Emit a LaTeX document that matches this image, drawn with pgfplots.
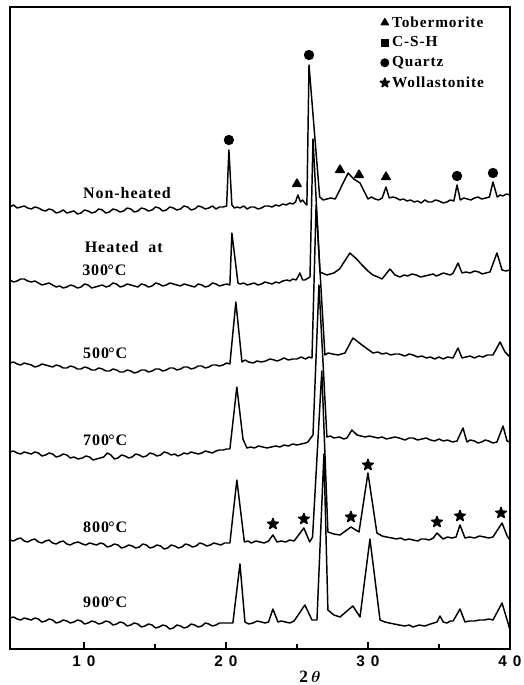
\documentclass[border=0pt]{standalone}
\usepackage{pgfplots}
\pgfplotsset{compat=1.18}
\usepackage{fontspec}
\usepackage{bm}
\setmainfont{Liberation Serif}
\setsansfont{Liberation Sans}
\newfontfamily\lblfont[LetterSpace=6]{Liberation Serif}
\pgfdeclareplotmark{fstar}{%
 \pgfpathmoveto{\pgfpointpolar{90}{\pgfplotmarksize}}%
 \pgfpathlineto{\pgfpointpolar{126}{0.4\pgfplotmarksize}}%
 \pgfpathlineto{\pgfpointpolar{162}{\pgfplotmarksize}}%
 \pgfpathlineto{\pgfpointpolar{198}{0.4\pgfplotmarksize}}%
 \pgfpathlineto{\pgfpointpolar{234}{\pgfplotmarksize}}%
 \pgfpathlineto{\pgfpointpolar{270}{0.4\pgfplotmarksize}}%
 \pgfpathlineto{\pgfpointpolar{306}{\pgfplotmarksize}}%
 \pgfpathlineto{\pgfpointpolar{342}{0.4\pgfplotmarksize}}%
 \pgfpathlineto{\pgfpointpolar{18}{\pgfplotmarksize}}%
 \pgfpathlineto{\pgfpointpolar{54}{0.4\pgfplotmarksize}}%
 \pgfpathclose
 \pgfusepathqfillstroke}
\begin{document}
\begin{tikzpicture}
\begin{axis}[name=ax, scale only axis, width=375pt, height=481.5pt,
  xmin=4.8, xmax=40, ymin=0, ymax=642,
  axis line style={line width=1.3pt},
  ytick=\empty,
  xtick={10,20,30,40},
  xticklabels={1\kern4.5pt0,2\kern4.5pt0,3\kern4.5pt0,4\kern4.5pt0},
  minor xtick={15,25,35},
  xtick pos=left,
  major tick length=5pt, minor tick length=4pt,
  every tick/.style={line width=1pt, black},
  xticklabel style={font=\sffamily\bfseries\fontsize{11.5}{13}\selectfont, yshift=-1.5pt},
  xlabel={\textbf{2}\,$\bm{\theta}$},
  xlabel style={at={(axis description cs:0.6,0)}, anchor=center, yshift=-21pt, font=\bfseries\fontsize{13}{15}\selectfont},
  legend style={at={(axis description cs:0.732,0.994)}, anchor=north west, draw=none, fill=none,
     font=\lblfont\bfseries\fontsize{11.5}{13}\selectfont, row sep=1.8pt},
  legend cell align=left,
  every axis plot/.append style={line width=1.1pt, line join=round},
]
\addlegendimage{only marks, mark=triangle*, mark size=3pt, black}
\addlegendentry{Tobermorite}
\addlegendimage{only marks, mark=square*, mark size=2.6pt, black}
\addlegendentry{C-S-H}
\addlegendimage{only marks, mark=*, mark size=2.8pt, black}
\addlegendentry{Quartz}
\addlegendimage{only marks, mark=fstar, mark size=3.6pt, black}
\addlegendentry{Wollastonite}

% Non-heated
\addplot[black, forget plot] coordinates {(4.8,442)(5.05,444)(5.3,441)(5.55,442)(5.8,443)(6.05,441)(6.3,440)(6.55,442)(6.8,441)(7.05,439)(7.3,438)(7.55,440)(7.8,439)(8.05,436)(8.3,437)(8.55,439)(8.8,436)(9.05,437)(9.3,438)(9.55,435)(9.8,436)(10.05,439)(10.3,438)(10.55,436)(10.8,437)(11.05,440)(11.3,439)(11.55,436)(11.8,437)(12.05,440)(12.3,439)(12.55,437)(12.8,438)(13.05,441)(13.3,440)(13.55,437)(13.8,438)(14.05,441)(14.3,440)(14.55,438)(14.8,439)(15.05,442)(15.3,441)(15.55,438)(15.8,439)(16.05,442)(16.3,441)(16.55,439)(16.8,440)(17.05,443)(17.3,442)(17.55,439)(17.8,440)(18.05,443)(18.3,442)(18.55,440)(18.8,441)(19.05,443)(19.3,440)(19.55,442)(19.8,442)(20.05,443)(20.21,499)(20.42,444)(20.6,441)(20.8,442)(21.0,441)(21.25,443)(21.5,440)(21.75,442)(22.0,442)(22.25,440)(22.5,441)(22.75,443)(23.0,443)(23.25,442)(23.5,444)(23.75,443)(24.0,445)(24.25,444)(24.5,446)(24.7,445)(24.9,447)(25.07,454)(25.25,447)(25.4,449)(25.56,446)(25.7,444)(25.85,584)(26.6,452)(26.85,449)(27.1,450)(27.4,451)(27.7,450)(28.6,476)(29.0,470)(29.44,466)(30.0,450)(30.25,452)(30.5,450)(30.75,449)(31.0,451)(31.27,462)(31.5,451)(31.75,452)(32.0,451)(32.25,449)(32.5,450)(32.75,448)(33.0,449)(33.25,447)(33.5,448)(33.75,446)(34.0,449)(34.25,447)(34.5,447)(34.75,449)(35.0,448)(35.3,446)(35.56,447)(35.8,449)(36.05,448)(36.27,464)(36.5,449)(36.75,451)(37.0,450)(37.25,449)(37.5,451)(37.75,452)(38.0,450)(38.3,451)(38.55,452)(38.8,467)(39.1,452)(39.3,454)(39.5,453)(39.75,455)(40,454)};
% 300 C
\addplot[black, forget plot] coordinates {(4.8,369)(5.05,367)(5.3,368)(5.55,370)(5.8,370)(6.05,368)(6.3,367)(6.55,368)(6.8,366)(7.05,364)(7.3,365)(7.55,366)(7.8,364)(8.05,362)(8.3,363)(8.55,361)(8.8,362)(9.05,364)(9.3,363)(9.55,361)(9.8,362)(10.05,365)(10.3,364)(10.55,361)(10.8,362)(11.05,363)(11.3,364)(11.55,362)(11.8,363)(12.05,366)(12.3,365)(12.55,362)(12.8,363)(13.05,365)(13.3,364)(13.55,363)(13.8,362)(14.05,365)(14.3,364)(14.55,362)(14.8,363)(15.05,366)(15.3,365)(15.55,363)(15.8,364)(16.05,366)(16.3,365)(16.55,364)(16.8,363)(17.05,365)(17.3,364)(17.55,363)(17.8,362)(18.05,365)(18.3,364)(18.55,362)(18.8,363)(19.05,366)(19.3,365)(19.55,363)(19.8,364)(20.05,365)(20.28,364)(20.42,416)(20.85,366)(21.0,365)(21.25,366)(21.5,364)(21.75,365)(22.0,366)(22.25,364)(22.5,365)(22.75,367)(23.0,366)(23.25,365)(23.5,367)(23.75,366)(24.0,368)(24.3,369)(24.5,368)(24.7,370)(24.95,369)(25.21,376)(25.4,369)(25.56,369)(25.92,372)(26.13,510)(26.62,377)(27.11,374)(27.35,375)(27.6,376)(28.0,380)(28.73,396)(29.2,390)(29.58,384)(30.0,378)(30.35,374)(30.7,372)(30.99,370)(31.55,380)(31.9,374)(32.25,372)(32.55,374)(32.8,373)(33.1,375)(33.4,374)(33.7,372)(34.0,373)(34.3,374)(34.6,375)(34.8,373)(35.0,374)(35.3,376)(35.56,375)(35.8,374)(36.0,376)(36.34,386)(36.62,376)(36.9,377)(37.2,376)(37.5,378)(37.8,377)(38.05,375)(38.3,376)(38.59,377)(39.08,396)(39.44,379)(39.7,378)(40,379)};
% 500 C
\addplot[black, forget plot] coordinates {(4.8,286)(5.05,287)(5.3,285)(5.55,284)(5.8,286)(6.05,285)(6.3,284)(6.55,282)(6.8,283)(7.05,285)(7.3,284)(7.55,283)(7.8,282)(8.05,284)(8.3,283)(8.55,281)(8.8,281)(9.05,283)(9.3,282)(9.55,280)(9.8,280)(10.05,282)(10.3,281)(10.55,279)(10.8,279)(11.05,281)(11.3,280)(11.55,278)(11.8,278)(12.05,280)(12.3,279)(12.55,277)(12.8,277)(13.05,279)(13.3,278)(13.55,276)(13.8,277)(14.05,279)(14.3,279)(14.55,277)(14.8,278)(15.05,280)(15.3,280)(15.55,278)(15.8,279)(16.05,281)(16.3,281)(16.55,279)(16.8,280)(17.05,282)(17.3,282)(17.55,280)(17.8,281)(18.05,283)(18.3,283)(18.55,281)(18.8,282)(19.05,284)(19.3,284)(19.55,283)(19.8,284)(20.05,286)(20.28,285)(20.7,347)(21.13,287)(21.35,289)(21.6,287)(21.9,286)(22.2,288)(22.5,287)(22.8,288)(23.1,290)(23.4,289)(23.6,288)(23.8,289)(24.1,291)(24.4,289)(24.7,290)(25.0,290)(25.3,292)(25.6,290)(25.85,292)(26.06,291)(26.35,444)(26.97,294)(27.2,296)(27.5,295)(27.9,294)(28.38,296)(28.94,311)(29.58,304)(30.35,296)(30.7,297)(31.0,295)(31.3,296)(31.6,294)(31.9,295)(32.2,295)(32.6,293)(32.9,295)(33.17,294)(33.5,292)(33.8,293)(34.1,291)(34.4,292)(34.7,290)(35.0,292)(35.3,290)(35.6,292)(35.99,291)(36.34,301)(36.62,291)(36.9,292)(37.2,293)(37.5,291)(37.8,293)(38.1,292)(38.4,294)(38.8,294)(39.3,307)(39.65,297)(40,292)};
% 700 C
\addplot[black, forget plot] coordinates {(4.8,197)(5.05,198)(5.3,196)(5.55,195)(5.8,197)(6.05,196)(6.3,195)(6.55,197)(6.8,196)(7.05,193)(7.3,194)(7.55,196)(7.8,195)(8.05,192)(8.3,193)(8.55,195)(8.8,194)(9.05,191)(9.3,192)(9.6,190)(9.9,191)(10.15,193)(10.4,192)(10.65,189)(10.9,190)(11.15,191)(11.4,192)(11.65,196)(11.9,194)(12.15,190)(12.4,191)(12.65,194)(12.9,193)(13.15,191)(13.4,192)(13.65,195)(13.9,194)(14.15,192)(14.4,193)(14.65,196)(14.9,195)(15.15,193)(15.4,194)(15.65,197)(15.9,196)(16.15,194)(16.4,195)(16.6,193)(16.8,194)(17.05,196)(17.3,195)(17.55,197)(17.8,196)(18.05,195)(18.3,196)(18.55,198)(18.8,197)(19.05,196)(19.3,198)(19.55,199)(19.8,199)(20.05,200)(20.28,200)(20.77,262)(21.2,210)(21.48,201)(21.75,202)(22.0,201)(22.3,203)(22.6,202)(22.9,201)(23.2,202)(23.5,203)(23.8,202)(24.1,204)(24.4,203)(24.7,205)(25.0,204)(25.3,205)(25.6,206)(25.77,207)(26.13,214)(26.55,364)(27.11,212)(27.35,213)(27.6,211)(28.0,212)(28.3,210)(28.52,211)(28.87,219)(29.23,214)(29.5,213)(29.8,212)(30.1,213)(30.4,212)(30.7,211)(31.0,212)(31.3,210)(31.6,211)(31.9,212)(32.2,211)(32.6,209)(32.9,211)(33.17,211)(33.5,209)(33.8,210)(34.1,211)(34.4,209)(34.7,208)(35.0,210)(35.3,208)(35.6,209)(35.95,207)(36.27,208)(36.69,221)(36.97,207)(37.2,209)(37.5,208)(37.75,206)(38.0,207)(38.25,209)(38.5,208)(38.8,206)(39.08,207)(39.51,223)(39.79,208)(40,207)};
% 800 C
\addplot[black, forget plot] coordinates {(4.8,109)(5.05,108)(5.3,110)(5.55,111)(5.8,108)(6.05,107)(6.3,109)(6.55,110)(6.8,107)(7.05,106)(7.3,108)(7.55,109)(7.8,106)(8.05,105)(8.3,107)(8.55,108)(8.8,105)(9.05,104)(9.3,106)(9.6,107)(9.9,105)(10.15,104)(10.4,106)(10.65,105)(10.9,104)(11.15,106)(11.4,105)(11.65,102)(11.9,103)(12.15,105)(12.4,104)(12.65,101)(12.9,102)(13.15,104)(13.4,103)(13.65,101)(13.9,102)(14.15,105)(14.4,104)(14.65,101)(14.9,102)(15.15,104)(15.4,103)(15.65,100)(15.9,101)(16.15,104)(16.4,103)(16.65,101)(16.9,102)(17.15,105)(17.4,104)(17.65,102)(17.9,103)(18.15,106)(18.4,105)(18.65,103)(18.9,104)(19.15,106)(19.4,105)(19.65,104)(19.9,106)(20.28,106)(20.77,169)(21.3,107)(21.55,108)(21.8,106)(22.1,108)(22.4,107)(22.7,106)(23.0,108)(23.31,114)(23.6,107)(23.9,108)(24.2,107)(24.5,109)(24.8,108)(25.49,121)(25.9,107)(26.1,112)(26.75,278)(27.18,117)(27.6,115)(28.03,114)(28.8,122)(29.37,117)(30.0,176)(30.63,116)(31.0,113)(31.3,112)(31.7,111)(32.0,110)(32.3,111)(32.6,109)(32.9,110)(33.17,109)(33.5,108)(33.75,110)(34.0,110)(34.3,109)(34.6,111)(34.86,116)(35.28,110)(35.6,112)(35.9,111)(36.2,112)(36.48,124)(36.83,111)(37.15,112)(37.5,111)(37.85,113)(38.2,112)(38.5,111)(38.8,112)(39.44,126)(39.8,113)(40,109)};
% 900 C
\addplot[black, forget plot] coordinates {(4.8,31)(5.05,32)(5.3,30)(5.55,29)(5.8,31)(6.05,30)(6.3,29)(6.55,31)(6.8,30)(7.05,27)(7.3,28)(7.55,30)(7.8,29)(8.05,26)(8.3,27)(8.55,29)(8.8,28)(9.05,26)(9.3,27)(9.55,29)(9.8,28)(10.05,25)(10.3,26)(10.55,28)(10.8,27)(11.05,25)(11.3,26)(11.55,28)(11.8,27)(12.05,24)(12.3,25)(12.55,27)(12.8,26)(13.05,23)(13.3,24)(13.55,26)(13.8,25)(14.05,22)(14.3,23)(14.55,25)(14.8,24)(15.05,21)(15.3,22)(15.55,24)(15.8,23)(16.05,20)(16.3,21)(16.55,24)(16.8,23)(17.05,21)(17.3,22)(17.55,25)(17.8,24)(18.05,22)(18.3,23)(18.55,26)(18.8,25)(19.05,23)(19.3,24)(19.55,26)(19.8,26)(20.49,26)(20.99,85)(21.34,27)(21.6,25)(21.9,26)(22.2,28)(22.5,27)(22.75,26)(23.0,27)(23.31,40)(23.66,27)(23.9,28)(24.2,27)(24.5,26)(24.8,28)(25.56,44)(26.06,29)(26.41,29)(26.9,195)(27.18,39)(27.6,34)(28.03,32)(28.94,43)(29.44,32)(30.14,110)(30.85,29)(31.2,27)(31.5,26)(31.85,25)(32.2,24)(32.6,23)(32.9,24)(33.17,22)(33.6,24)(34.0,23)(34.4,25)(34.86,27)(35.07,33)(35.3,27)(35.56,26)(35.8,28)(36.0,28)(36.48,40)(36.83,27)(37.15,28)(37.5,28)(37.85,29)(38.2,29)(38.5,30)(38.8,29)(39.44,46)(39.86,26)(40,19)};

% peak markers
\addplot[only marks, mark=*, mark size=3.3pt, black, forget plot] coordinates {(20.21,509)(25.85,594)(36.27,473)(38.8,476)};
\addplot[only marks, mark=triangle*, mark size=3.6pt, black, forget plot] coordinates {(25.0,465)(28.03,479)(29.37,474)(31.27,472)};
\addplot[only marks, mark=fstar, mark size=4.2pt, black, forget plot] coordinates {(23.31,125)(25.49,130)(28.8,132)(30.0,184)(34.86,127)(36.48,133)(39.37,136)};

% curve labels
\node[anchor=west, font=\lblfont\bfseries\fontsize{12}{14}\selectfont, inner sep=0pt] at (axis cs:9.93,456) {Non-heated};
\node[anchor=west, font=\lblfont\bfseries\fontsize{12}{14}\selectfont, inner sep=0pt] at (axis cs:10.05,402) {Heated\ \ at};
\node[anchor=west, font=\lblfont\bfseries\fontsize{12}{14}\selectfont, inner sep=0pt] at (axis cs:9.87,379) {300\kern-0.5pt°C};
\node[anchor=west, font=\lblfont\bfseries\fontsize{12}{14}\selectfont, inner sep=0pt] at (axis cs:9.93,296) {500\kern-0.5pt°C};
\node[anchor=west, font=\lblfont\bfseries\fontsize{12}{14}\selectfont, inner sep=0pt] at (axis cs:9.93,209) {700\kern-0.5pt°C};
\node[anchor=west, font=\lblfont\bfseries\fontsize{12}{14}\selectfont, inner sep=0pt] at (axis cs:9.93,122) {800\kern-0.5pt°C};
\node[anchor=west, font=\lblfont\bfseries\fontsize{12}{14}\selectfont, inner sep=0pt] at (axis cs:9.93,47) {900\kern-0.5pt°C};
\end{axis}
\pgfresetboundingbox
\path[use as bounding box] ([xshift=-7.5pt,yshift=-27pt]ax.south west) rectangle ([xshift=10.5pt,yshift=5.25pt]ax.north east);
\end{tikzpicture}
\end{document}
